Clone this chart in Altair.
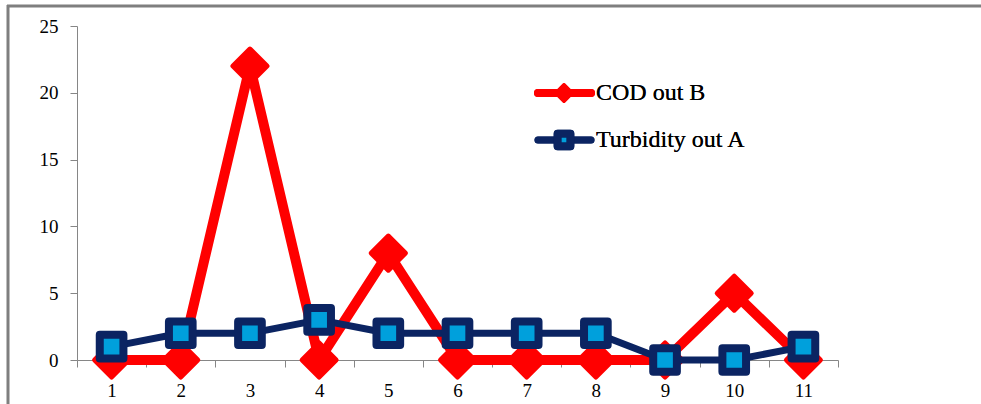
import altair as alt
import pandas as pd

# Sample numbers along the x axis
samples = [1, 2, 3, 4, 5, 6, 7, 8, 9, 10, 11]
# Measured values for each series
cod_out_b = [0, 0, 22, 0, 8, 0, 0, 0, 0, 5, 0]
turbidity_out_a = [1, 2, 2, 3, 2, 2, 2, 2, 0, 0, 1]
series_names = ["COD out B", "Turbidity out A"]
y_ticks = [0, 5, 10, 15, 20, 25]

FONT = "'Liberation Serif', 'Times New Roman', 'DejaVu Serif', serif"
RED = "#FF0000"
NAVY = "#0B2462"
LIGHT_BLUE = "#00A0DC"
GRAY = "#868686"

cod_df = pd.DataFrame({"sample": samples, "value": cod_out_b, "series": series_names[0]})
turb_df = pd.DataFrame({"sample": samples, "value": turbidity_out_a, "series": series_names[1]})

x_enc = alt.X(
    "sample:O",
    sort=samples,
    scale=alt.Scale(paddingInner=0, paddingOuter=0),
    axis=alt.Axis(
        title=None,
        labelAngle=0,
        tickBand="extent",
        domainColor=GRAY,
        tickColor=GRAY,
        tickSize=7,
        labelPadding=14,
        labelFont=FONT,
        labelFontSize=19,
        labelColor="#000000",
    ),
)
y_enc = alt.Y(
    "value:Q",
    scale=alt.Scale(domain=[0, 25], nice=False),
    axis=alt.Axis(
        title=None,
        values=y_ticks,
        grid=False,
        domainColor=GRAY,
        tickColor=GRAY,
        tickSize=7,
        labelPadding=12,
        labelFont=FONT,
        labelFontSize=19,
        labelColor="#000000",
    ),
)

cod_line = alt.Chart(cod_df).mark_line(color=RED, strokeWidth=10, strokeJoin="round").encode(x=x_enc, y=y_enc)
cod_pts = alt.Chart(cod_df).mark_point(
    shape="diamond", filled=True, fill=RED, stroke=RED, strokeWidth=5,
    strokeJoin="round", size=1156, opacity=1,
).encode(x=x_enc, y=y_enc)

turb_line = alt.Chart(turb_df).mark_line(color=NAVY, strokeWidth=7, strokeJoin="round").encode(x=x_enc, y=y_enc)
turb_pts = alt.Chart(turb_df).mark_point(
    shape="square", filled=True, fill=LIGHT_BLUE, stroke=NAVY, strokeWidth=8,
    strokeJoin="round", size=560, opacity=1,
).encode(x=x_enc, y=y_enc)

# Legend drawn as small glyphs (line + marker) with labels
legend_base = alt.Chart(pd.DataFrame({"series": series_names}))


def legend_entry(idx, ypix):
    name = series_names[idx]
    color = RED if idx == 0 else NAVY
    width = 8 if idx == 0 else 7
    line = legend_base.mark_rule(color=color, strokeWidth=width, strokeCap="round").encode(
        x=alt.value(461), x2=alt.value(514), y=alt.value(ypix)
    )
    if idx == 0:
        mark = legend_base.mark_point(
            shape="diamond", filled=True, fill=RED, stroke=RED, strokeWidth=3,
            strokeJoin="round", size=289, opacity=1,
        )
    else:
        mark = legend_base.mark_point(
            shape="square", filled=True, fill=LIGHT_BLUE, stroke=NAVY, strokeWidth=8,
            strokeJoin="round", size=160, opacity=1,
        )
    mark = mark.encode(x=alt.value(487), y=alt.value(ypix))
    label = legend_base.mark_text(
        align="left", baseline="middle", font=FONT, fontSize=24, color="#000000"
    ).encode(x=alt.value(519), y=alt.value(ypix), text=alt.value(name))
    return line + mark + label


# Chart frame (left and top edges)
frame_left = alt.Chart(pd.DataFrame({"series": series_names[:1]})).mark_rule(
    color="#7F7F7F", strokeWidth=3
).encode(x=alt.value(-69), y=alt.value(-21), y2=alt.value(400))
frame_top = alt.Chart(pd.DataFrame({"series": series_names[:1]})).mark_rule(
    color="#7F7F7F", strokeWidth=3
).encode(x=alt.value(-70), x2=alt.value(910), y=alt.value(-20))

chart = (
    alt.layer(
        frame_left, frame_top,
        cod_line, cod_pts, turb_line, turb_pts,
        legend_entry(0, 67), legend_entry(1, 114),
    )
    .properties(
        width=761,
        height=334,
        autosize=alt.AutoSizeParams(type="none"),
        padding={"left": 77, "top": 26, "right": 143, "bottom": 44},
        background="#FFFFFF",
    )
    .configure_view(stroke=None)
)

chart.save("out.html", embed_options={"renderer": "svg", "actions": False})
